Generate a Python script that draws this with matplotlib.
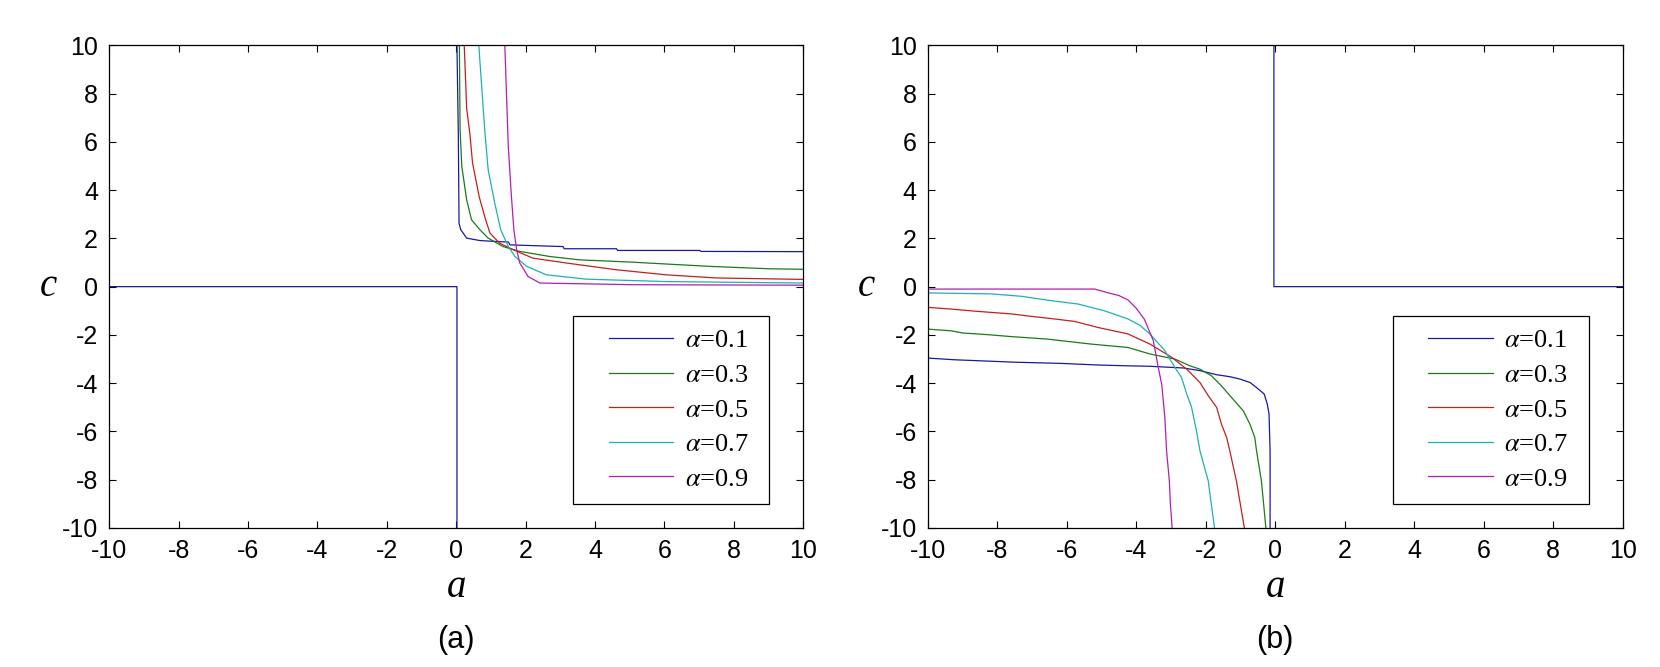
import numpy as np
import matplotlib
matplotlib.use('Agg')
import matplotlib.pyplot as plt
from matplotlib.legend_handler import HandlerLine2D

plt.rcParams['font.family'] = ['Liberation Sans', 'DejaVu Sans']
plt.rcParams['mathtext.fontset'] = 'stix'
plt.rcParams['axes.unicode_minus'] = False

# ---- panel (a) curves ----
a_a1 = [0.02, 0.06, 0.08, 0.13, 0.30, 0.68, 1.16, 1.50, 1.55, 3.08, 3.11, 4.62, 4.65, 7.02, 7.05, 10.0]
c_a1 = [10.0, 6.29, 2.63, 2.36, 2.01, 1.91, 1.87, 1.85, 1.73, 1.66, 1.57, 1.57, 1.50, 1.50, 1.46, 1.45]
# lower-left L drawn with the first curve
a_a1_low = [-10.0, 0.02, 0.02]
c_a1_low = [0.0, 0.0, -10.0]

a_a3 = [0.09, 0.11, 0.16, 0.30, 0.44, 0.68, 0.92, 1.35, 1.83, 2.69, 3.55, 5.00, 7.30, 9.02, 10.0]
c_a3 = [10.0, 6.50, 4.98, 3.60, 2.77, 2.36, 2.01, 1.66, 1.46, 1.25, 1.11, 1.02, 0.84, 0.74, 0.72]

a_a5 = [0.23, 0.30, 0.39, 0.47, 0.66, 0.82, 0.97, 1.25, 1.64, 2.21, 3.17, 4.61, 6.05, 7.49, 10.0]
c_a5 = [10.0, 7.39, 6.36, 5.12, 3.73, 2.90, 2.22, 1.80, 1.53, 1.18, 0.98, 0.70, 0.49, 0.36, 0.30]

a_a7 = [0.65, 0.72, 0.82, 0.92, 1.11, 1.28, 1.50, 1.69, 2.03, 2.60, 3.75, 6.05, 10.0]
c_a7 = [10.0, 8.56, 6.50, 4.84, 3.46, 2.36, 1.66, 1.25, 0.84, 0.49, 0.31, 0.21, 0.15]

a_a9 = [1.40, 1.45, 1.50, 1.59, 1.66, 1.74, 1.83, 2.07, 2.41, 5.10, 10.0]
c_a9 = [10.0, 7.87, 5.80, 3.73, 2.36, 1.53, 0.98, 0.42, 0.15, 0.08, 0.06]

# ---- panel (b) curves ----
a_b1 = [-10.0, -9.23, -7.51, -6.16, -5.06, -4.24, -3.61, -2.65, -2.17, -1.69, -1.31, -1.02,
        -0.73, -0.54, -0.32, -0.23, -0.18, -0.15, -0.15]
c_b1 = [-2.96, -3.03, -3.13, -3.18, -3.25, -3.28, -3.30, -3.37, -3.48, -3.65, -3.73, -3.83,
        -3.97, -4.18, -4.45, -4.87, -5.28, -6.80, -10.0]
# upper-right L drawn with the first curve
a_b1_up = [-0.04, -0.04, 10.0]
c_b1_up = [10.0, 0.0, 0.0]

a_b3 = [-10.0, -9.33, -9.00, -8.27, -7.60, -6.59, -5.97, -5.30, -4.24, -3.61, -3.13, -2.89,
        -2.46, -2.17, -1.84, -1.55, -1.26, -0.92, -0.73, -0.59, -0.54, -0.40, -0.27]
c_b3 = [-1.76, -1.83, -1.92, -1.99, -2.07, -2.17, -2.27, -2.38, -2.52, -2.79, -2.93, -3.00,
        -3.28, -3.42, -3.69, -4.11, -4.59, -5.15, -5.70, -6.25, -6.80, -8.05, -10.0]

a_b5 = [-10.0, -9.33, -8.61, -7.60, -7.03, -6.35, -5.78, -5.11, -4.24, -3.61, -2.98, -2.55,
        -2.17, -1.93, -1.69, -1.55, -1.40, -1.31, -1.12, -0.89]
c_b5 = [-0.86, -0.93, -1.02, -1.13, -1.23, -1.34, -1.44, -1.69, -1.96, -2.38, -2.93, -3.42,
        -3.97, -4.52, -5.00, -5.70, -6.25, -6.80, -8.05, -10.0]

a_b7 = [-10.0, -8.18, -7.31, -6.45, -5.68, -4.92, -4.24, -3.90, -3.61, -3.18, -2.89, -2.70,
        -2.55, -2.41, -2.27, -2.17, -1.93, -1.75]
c_b7 = [-0.26, -0.30, -0.40, -0.58, -0.72, -1.00, -1.34, -1.60, -1.96, -2.65, -3.35, -3.76,
        -4.45, -5.00, -5.98, -6.80, -8.05, -10.0]

a_b9 = [-10.0, -5.20, -5.00, -4.80, -4.50, -4.24, -4.00, -3.77, -3.61, -3.51, -3.37, -3.27,
        -3.18, -3.13, -3.05, -3.02, -2.97]
c_b9 = [-0.10, -0.10, -0.18, -0.26, -0.37, -0.55, -0.90, -1.35, -1.90, -2.24, -3.35, -4.04,
        -5.42, -6.80, -8.05, -9.00, -10.0]

labels = [r'$\alpha$=0.1', r'$\alpha$=0.3', r'$\alpha$=0.5', r'$\alpha$=0.7', r'$\alpha$=0.9']
colors = ['#1a1a9a', '#1a7a1a', '#c02020', '#20b0b0', '#b020b0']
ticks = [-10, -8, -6, -4, -2, 0, 2, 4, 6, 8, 10]


def join(xa, ya, xb, yb):
    # two branches of one curve, split by a gap
    return xa + [np.nan] + xb, ya + [np.nan] + yb


class PadLine(HandlerLine2D):
    # legend sample line starts a bit in from the frame, like the original
    def create_artists(self, *args, **kw):
        arts = super().create_artists(*args, **kw)
        fs = args[6]
        x = np.asarray(arts[0].get_xdata(), float)
        arts[0].set_xdata(np.linspace(x[0] + 0.85 * fs, x[-1], len(x)))
        return arts


fig = plt.figure(figsize=(16.6, 6.67), dpi=100)
ax1 = fig.add_axes([0.0658, 0.2084, 0.4181, 0.7237])
ax2 = fig.add_axes([0.5590, 0.2084, 0.4185, 0.7237])

curves_a = [join(a_a1, c_a1, a_a1_low, c_a1_low), (a_a3, c_a3), (a_a5, c_a5),
            (a_a7, c_a7), (a_a9, c_a9)]
curves_b = [join(a_b1, c_b1, a_b1_up, c_b1_up), (a_b3, c_b3), (a_b5, c_b5),
            (a_b7, c_b7), (a_b9, c_b9)]

for ax, curves, tag in [(ax1, curves_a, '(a)'), (ax2, curves_b, '(b)')]:
    lines = []
    for (x, y), col in zip(curves, colors):
        ln, = ax.plot(x, y, color=col, lw=0.9)
        lines.append(ln)
    ax.set_xlim(-10, 10)
    ax.set_ylim(-10, 10)
    ax.set_xticks(ticks)
    ax.set_yticks(ticks)
    ax.tick_params(direction='in', top=True, right=True, length=5, width=0.8,
                   labelsize=18, pad=8)
    for sp in ax.spines.values():
        sp.set_linewidth(0.9)
    ax.set_xlabel('a', fontsize=28, fontstyle='italic', family='Liberation Serif')
    ax.xaxis.set_label_coords(0.5, -0.085)
    ax.set_ylabel('c', fontsize=28, fontstyle='italic', family='Liberation Serif',
                  rotation=0, va='center', ha='center')
    ax.yaxis.set_label_coords(-0.088, 0.5)
    leg = ax.legend(lines, [s + '  ' for s in labels],
                    loc='lower right', bbox_to_anchor=(0.951, 0.05), borderaxespad=0,
                    prop={'family': 'Liberation Serif', 'size': 19},
                    handler_map={ln: PadLine() for ln in lines},
                    handlelength=3.28, handletextpad=0.45, labelspacing=0.42,
                    borderpad=0.5, fancybox=False, framealpha=1, edgecolor='black')
    leg.get_frame().set_linewidth(0.9)
    pos = ax.get_position()
    fig.text(pos.x0 + pos.width / 2, 0.040, tag, fontsize=22, ha='center', va='center')

fig.savefig('out.png', dpi=100)
